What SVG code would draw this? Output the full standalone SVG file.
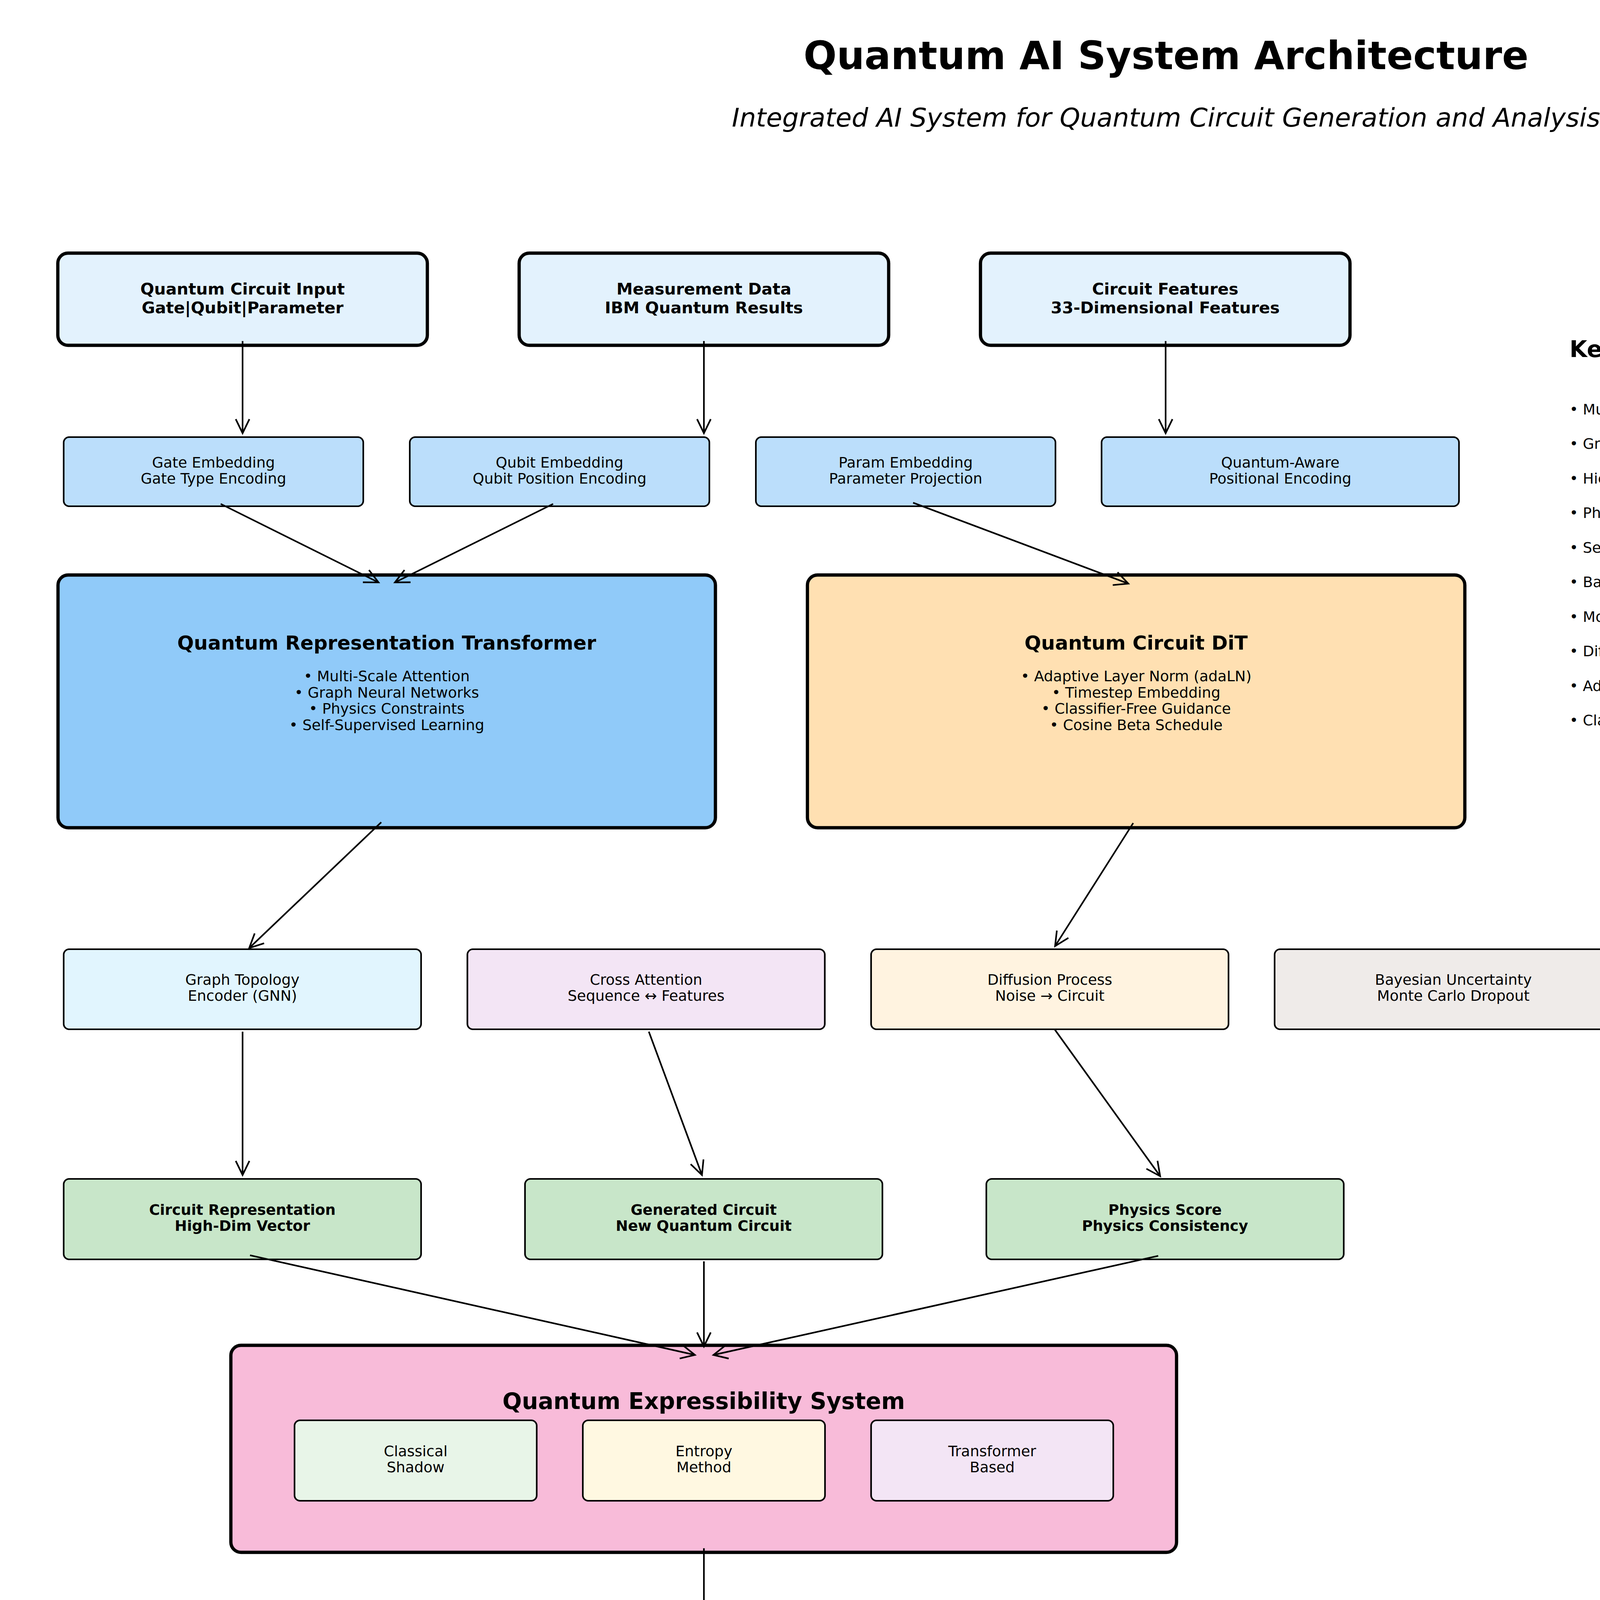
<svg xmlns="http://www.w3.org/2000/svg" width="5970" height="4770" viewBox="0 0 5970 4770">
<style>
text{font-family:"DejaVu Sans","Liberation Sans",sans-serif;fill:#000}
.thick{stroke:#000;stroke-width:8.33}
.thin{stroke:#000;stroke-width:4.17}
.c{text-anchor:middle}
.t9{font-size:37.5px}
.b9{font-size:37.5px;font-weight:bold}
.b10{font-size:41.67px;font-weight:bold}
.b12{font-size:50px;font-weight:bold}
.b14{font-size:58.33px;font-weight:bold}
.conn line{stroke:#000;stroke-width:4.17;marker-end:url(#ah)}
</style>
<defs>
<marker id="ah" markerUnits="userSpaceOnUse" markerWidth="80" markerHeight="80" viewBox="-40 -40 80 80" refX="0" refY="0" orient="auto" overflow="visible">
<path d="M-36,-17.5 L0,0 L-36,17.5" fill="none" stroke="#000" stroke-width="4.17"/>
</marker>
</defs>
<rect width="5970" height="4770" fill="#fff"/>
<text class="c" x="2985" y="177" font-size="100" font-weight="bold">Quantum AI System Architecture</text>
<text class="c" x="2985" y="324" font-size="66.67" font-style="italic">Integrated AI System for Quantum Circuit Generation and Analysis</text>

<g id="input-circuit"><rect class="thick" x="148" y="648" width="946" height="236" rx="26" fill="#E3F2FD"/><text class="c b10" x="621" y="754">Quantum Circuit Input</text><text class="c b10" x="621" y="802">Gate|Qubit|Parameter</text></g>
<g id="input-measurement"><rect class="thick" x="1329" y="648" width="946" height="236" rx="26" fill="#E3F2FD"/><text class="c b10" x="1802" y="754">Measurement Data</text><text class="c b10" x="1802" y="802">IBM Quantum Results</text></g>
<g id="input-features"><rect class="thick" x="2510" y="648" width="946" height="236" rx="26" fill="#E3F2FD"/><text class="c b10" x="2983" y="754">Circuit Features</text><text class="c b10" x="2983" y="802">33-Dimensional Features</text></g>

<g id="emb-gate"><rect class="thin" x="163" y="1119" width="767" height="177" rx="14" fill="#BBDEFB"/><text class="c t9" x="546.5" y="1197">Gate Embedding</text><text class="c t9" x="546.5" y="1238">Gate Type Encoding</text></g>
<g id="emb-qubit"><rect class="thin" x="1049" y="1119" width="767" height="177" rx="14" fill="#BBDEFB"/><text class="c t9" x="1432.5" y="1197">Qubit Embedding</text><text class="c t9" x="1432.5" y="1238">Qubit Position Encoding</text></g>
<g id="emb-param"><rect class="thin" x="1935" y="1119" width="767" height="177" rx="14" fill="#BBDEFB"/><text class="c t9" x="2318.5" y="1197">Param Embedding</text><text class="c t9" x="2318.5" y="1238">Parameter Projection</text></g>
<g id="emb-pos"><rect class="thin" x="2820" y="1119" width="915" height="177" rx="14" fill="#BBDEFB"/><text class="c t9" x="3277.5" y="1197">Quantum-Aware</text><text class="c t9" x="3277.5" y="1238">Positional Encoding</text></g>

<g id="transformer"><rect class="thick" x="148.5" y="1472" width="1683" height="647" rx="26" fill="#90CAF9"/><text class="c b12" x="990" y="1663">Quantum Representation Transformer</text>
<text class="c t9" x="990" y="1744">• Multi-Scale Attention</text><text class="c t9" x="990" y="1785.5">• Graph Neural Networks</text><text class="c t9" x="990" y="1827">• Physics Constraints</text><text class="c t9" x="990" y="1868.5">• Self-Supervised Learning</text></g>
<g id="dit"><rect class="thick" x="2067" y="1472" width="1683" height="647" rx="26" fill="#FFE0B2"/><text class="c b12" x="2908.5" y="1663">Quantum Circuit DiT</text>
<text class="c t9" x="2908.5" y="1744">• Adaptive Layer Norm (adaLN)</text><text class="c t9" x="2908.5" y="1785.5">• Timestep Embedding</text><text class="c t9" x="2908.5" y="1827">• Classifier-Free Guidance</text><text class="c t9" x="2908.5" y="1868.5">• Cosine Beta Schedule</text></g>

<g id="graph-topology"><rect class="thin" x="163" y="2430" width="915" height="205" rx="14" fill="#E1F5FE"/><text class="c t9" x="620.5" y="2521">Graph Topology</text><text class="c t9" x="620.5" y="2562">Encoder (GNN)</text></g>
<g id="cross-attention"><rect class="thin" x="1196.5" y="2430" width="915" height="205" rx="14" fill="#F3E5F5"/><text class="c t9" x="1654" y="2521">Cross Attention</text><text class="c t9" x="1654" y="2562">Sequence ↔ Features</text></g>
<g id="diffusion-process"><rect class="thin" x="2230" y="2430" width="915" height="205" rx="14" fill="#FFF3E0"/><text class="c t9" x="2687.5" y="2521">Diffusion Process</text><text class="c t9" x="2687.5" y="2562">Noise → Circuit</text></g>
<g id="bayesian"><rect class="thin" x="3263" y="2430" width="915" height="205" rx="14" fill="#EFEBE9"/><text class="c t9" x="3720.5" y="2521">Bayesian Uncertainty</text><text class="c t9" x="3720.5" y="2562">Monte Carlo Dropout</text></g>

<g id="out-representation"><rect class="thin" x="163" y="3018" width="915" height="206" rx="14" fill="#C8E6C9"/><text class="c b9" x="620.5" y="3110">Circuit Representation</text><text class="c b9" x="620.5" y="3151">High-Dim Vector</text></g>
<g id="out-generated"><rect class="thin" x="1344" y="3018" width="915" height="206" rx="14" fill="#C8E6C9"/><text class="c b9" x="1801.5" y="3110">Generated Circuit</text><text class="c b9" x="1801.5" y="3151">New Quantum Circuit</text></g>
<g id="out-physics"><rect class="thin" x="2525" y="3018" width="915" height="206" rx="14" fill="#C8E6C9"/><text class="c b9" x="2982.5" y="3110">Physics Score</text><text class="c b9" x="2982.5" y="3151">Physics Consistency</text></g>

<g id="expressibility"><rect class="thick" x="591" y="3444" width="2421" height="530" rx="26" fill="#F8BBD9"/><text class="c b14" x="1801.5" y="3607">Quantum Expressibility System</text>
<g id="expr-shadow"><rect class="thin" x="754" y="3636" width="620" height="206" rx="14" fill="#E8F5E8"/><text class="c t9" x="1064" y="3727.5">Classical</text><text class="c t9" x="1064" y="3768.5">Shadow</text></g>
<g id="expr-entropy"><rect class="thin" x="1492" y="3636" width="620" height="206" rx="14" fill="#FFF8E1"/><text class="c t9" x="1802" y="3727.5">Entropy</text><text class="c t9" x="1802" y="3768.5">Method</text></g>
<g id="expr-transformer"><rect class="thin" x="2230" y="3636" width="620" height="206" rx="14" fill="#F3E5F5"/><text class="c t9" x="2540" y="3727.5">Transformer</text><text class="c t9" x="2540" y="3768.5">Based</text></g>
</g>

<g id="results"><rect class="thick" x="887" y="4151" width="1830" height="295" rx="26" fill="#E8F5E8"/><text class="c b12" x="1802" y="4287">Comprehensive Quantum Analysis Results</text><text class="c b12" x="1802" y="4341">Complete Circuit Analysis Output</text></g>

<g id="connectors" class="conn">
<line x1="621" y1="873" x2="621" y2="1109"/>
<line x1="1802" y1="873" x2="1802" y2="1109"/>
<line x1="2984" y1="873" x2="2984" y2="1109"/>
<line x1="565" y1="1290" x2="969" y2="1491"/>
<line x1="1416" y1="1290" x2="1011" y2="1491"/>
<line x1="2337.5" y1="1287" x2="2888.5" y2="1494"/>
<line x1="976" y1="2105" x2="638" y2="2427"/>
<line x1="2901" y1="2107" x2="2701" y2="2422"/>
<line x1="621" y1="2641" x2="621" y2="3008"/>
<line x1="1661" y1="2641" x2="1797" y2="3008"/>
<line x1="2700.5" y1="2636" x2="2970" y2="3011"/>
<line x1="640" y1="3213.5" x2="1779" y2="3468.6"/>
<line x1="1802" y1="3229" x2="1802" y2="3447"/>
<line x1="2965" y1="3215" x2="1826.5" y2="3468.6"/>
<line x1="1802" y1="3963.5" x2="1802" y2="4155"/>
</g>

<g id="key-techniques">
<text class="b14" x="4018" y="914">Key AI Techniques</text>
<text class="t9" x="4018" y="1060.5">• Multi-Head Cross-Attention</text>
<text class="t9" x="4018" y="1149">• Graph Neural Networks</text>
<text class="t9" x="4018" y="1237.5">• Hierarchical Multi-Scale Attention</text>
<text class="t9" x="4018" y="1326">• Physics-Informed Neural Networks</text>
<text class="t9" x="4018" y="1414.5">• Self-Supervised Pre-training</text>
<text class="t9" x="4018" y="1503">• Bayesian Uncertainty Quantification</text>
<text class="t9" x="4018" y="1591.5">• Monte Carlo Dropout</text>
<text class="t9" x="4018" y="1680">• Diffusion Transformer (DiT)</text>
<text class="t9" x="4018" y="1768.5">• Adaptive Layer Normalization</text>
<text class="t9" x="4018" y="1857">• Classifier-Free Guidance</text>
</g>
<g id="data-flow">
<text class="b14" x="4903" y="914">Data Flow</text>
<text class="t9" x="4905" y="1060.5">1. Quantum Circuit Input</text>
<text class="t9" x="4905" y="1149">2. Multi-Modal Embedding</text>
<text class="t9" x="4905" y="1237.5">3. Transformer Processing</text>
<text class="t9" x="4905" y="1326">4. Graph Topology</text>
<text class="t9" x="4905" y="1414.5">5. Physics Constraints</text>
<text class="t9" x="4905" y="1503">6. Representation Extraction</text>
<text class="t9" x="4905" y="1591.5">7. Circuit Generation</text>
<text class="t9" x="4905" y="1680">8. Expressibility Analysis</text>
<text class="t9" x="4905" y="1768.5">9. Comprehensive Results</text>
</g>

<g id="legend">
<text class="b12" x="324" y="4593">Legend:</text>
<rect class="thin" x="621" y="4563" width="88.5" height="59" fill="#E3F2FD"/><text class="t9" x="739" y="4605">Input Layer</text>
<rect class="thin" x="1359" y="4563" width="88.5" height="59" fill="#BBDEFB"/><text class="t9" x="1477" y="4605">Embedding Layer</text>
<rect class="thin" x="2097" y="4563" width="88.5" height="59" fill="#90CAF9"/><text class="t9" x="2215" y="4605">Transformer</text>
<rect class="thin" x="2835" y="4563" width="88.5" height="59" fill="#FFE0B2"/><text class="t9" x="2953" y="4605">Diffusion</text>
<rect class="thin" x="3573" y="4563" width="88.5" height="59" fill="#C8E6C9"/><text class="t9" x="3691" y="4605">Output</text>
<rect class="thin" x="4311" y="4563" width="88.5" height="59" fill="#F8BBD9"/><text class="t9" x="4429" y="4605">Analysis</text>
</g>
</svg>
